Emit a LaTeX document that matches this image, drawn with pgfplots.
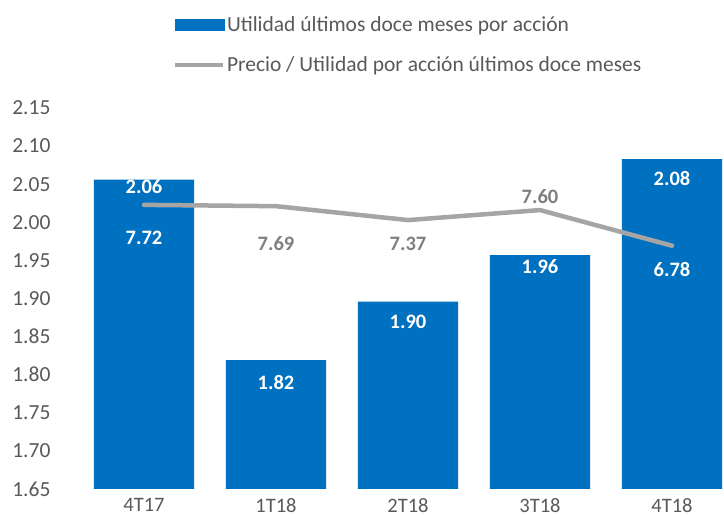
\documentclass[border=0pt]{standalone}
\usepackage{fontspec}
\setmainfont{Carlito}
\usepackage{pgfplots}
\pgfplotsset{compat=1.18}
\usepackage{pgfplotstable}
\definecolor{barblue}{HTML}{0070C0}
\definecolor{linegray}{HTML}{A5A5A5}
\definecolor{ticktext}{HTML}{595959}
\definecolor{lblgray}{HTML}{7F7F7F}

\pgfplotstableread{
x y dy
0 2.056 -7
1 1.819 -22
2 1.896 -20
3 1.957 -12
4 2.083 -19
}\bars

\pgfplotstableread{
x y dy wp
0 7.72 -33 100
1 7.69 -37 0
2 7.37 -24 0
3 7.60 14 0
4 6.78 -24 100
}\pe

\begin{document}
\begin{tikzpicture}
\path[use as bounding box] (0,0) rectangle (724pt,519pt);
\begin{axis}[
  at={(78pt,30pt)}, anchor=south west,
  width=645pt, height=381pt, scale only axis,
  xmin=-0.5, xmax=4.386, ymin=1.65, ymax=2.15,
  ybar, bar width=0.76,
  axis line style={draw=none},
  major tick length=0pt,
  xtick={0,1,2,3,4},
  xticklabels={4T17,1T18,2T18,3T18,4T18},
  ytick={1.65,1.70,1.75,1.80,1.85,1.90,1.95,2.00,2.05,2.10,2.15},
  /pgf/number format/assume math mode=true,
  yticklabel style={/pgf/number format/.cd, fixed, fixed zerofill, precision=2, /tikz/.cd, xshift=-24pt},
  ticklabel style={text=ticktext, font=\fontsize{21.5}{24}\selectfont},
  xticklabel style={inner ysep=0pt, yshift=-9pt, font=\fontsize{20.5}{22}\selectfont},
  legend style={draw=none, fill=none, at={(0.147,1)}, anchor=south west, yshift=33pt,
    font=\fontsize{21.5}{24}\selectfont, text=ticktext, row sep=19pt, inner xsep=0pt, inner ysep=0pt},
  legend cell align=left,
  clip=true,
]
\addplot[fill=barblue, draw=none,
  visualization depends on={\thisrow{dy}\as\dy},
  nodes near coords={\pgfmathprintnumber[fixed,fixed zerofill,precision=2,assume math mode=true]{\pgfplotspointmeta}},
  nodes near coords style={anchor=center, yshift=\dy pt, text=white, font=\fontsize{20.5}{22}\selectfont\bfseries},
  legend image code/.code={\fill[barblue] (0pt,-6pt) rectangle (50pt,6pt);}
] table[x=x,y=y] {\bars};
\addlegendentry{Utilidad últimos doce meses por acción}
\addlegendimage{legend image code/.code={\draw[linegray, line width=4pt] (0pt,0pt) -- (48pt,0pt);}}
\addlegendentry{Precio / Utilidad por acción últimos doce meses}
\end{axis}
\begin{axis}[
  at={(78pt,30pt)}, anchor=south west,
  width=645pt, height=381pt, scale only axis,
  xmin=-0.5, xmax=4.386, ymin=1.18, ymax=9.95,
  hide axis,
]
\addplot[linegray, line width=4.5pt, line cap=round, line join=round, mark=none,
  visualization depends on={\thisrow{dy}\as\dy},
  visualization depends on={\thisrow{wp}\as\wp},
  nodes near coords={\pgfmathprintnumber[fixed,fixed zerofill,precision=2,assume math mode=true]{\pgfplotspointmeta}},
  nodes near coords style={anchor=center, yshift=\dy pt, text=white!\wp!lblgray, font=\fontsize{20.5}{22}\selectfont\bfseries},
] table[x=x,y=y] {\pe};
\end{axis}
\end{tikzpicture}
\end{document}
